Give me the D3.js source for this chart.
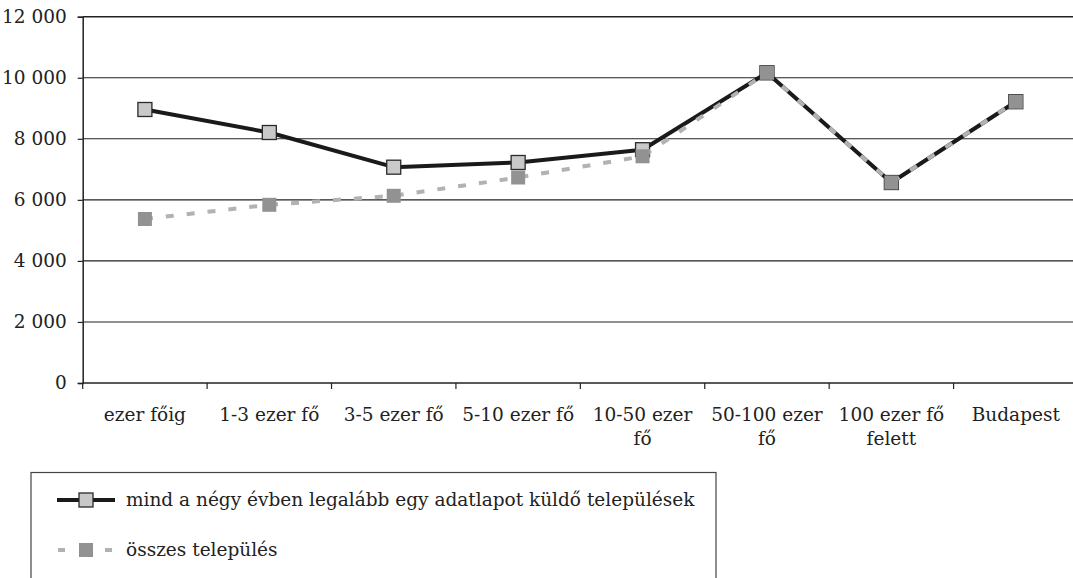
<!DOCTYPE html>
<html>
<head>
<meta charset="utf-8">
<script src="https://cdn.jsdelivr.net/npm/d3@7"></script>
<style>
  html, body { margin: 0; padding: 0; background: #fff; }
  svg { display: block; }
</style>
</head>
<body>
<svg id="chart" width="1073" height="578"></svg>
<script>
// ---- data ----
const categories = ["ezer főig", "1-3 ezer fő", "3-5 ezer fő", "5-10 ezer fő",
                    "10-50 ezer fő", "50-100 ezer fő", "100 ezer fő felett", "Budapest"];
const categoryLines = [["ezer főig"], ["1-3 ezer fő"], ["3-5 ezer fő"], ["5-10 ezer fő"],
                       ["10-50 ezer", "fő"], ["50-100 ezer", "fő"], ["100 ezer fő", "felett"], ["Budapest"]];
const seriesAllFour = [8960, 8206, 7070, 7224, 7643, 10162, 6568, 9215];
const seriesAll     = [5373, 5838, 6133, 6732, 7427, 10162, 6568, 9215];
const seriesNames = ["mind a négy évben legalább egy adatlapot küldő települések", "összes település"];
const yTicks = [0, 2000, 4000, 6000, 8000, 10000, 12000];
const yTickLabels = ["0", "2 000", "4 000", "6 000", "8 000", "10 000", "12 000"];

// ---- layout ----
const svg = d3.select("#chart");
const mLeft = 82.7, mRight = 1078, mTop = 16.7, mBottom = 383;
const FONT = "'DejaVu Serif', 'Liberation Serif', serif";
const FS = 18.5;

const x = d3.scaleBand().domain(categories).range([mLeft, mRight]).paddingInner(0).paddingOuter(0);
const y = d3.scaleLinear().domain([0, 12000]).range([mBottom, mTop]);

// gridlines
svg.append("g").selectAll("line").data(yTicks.filter(d => d > 0)).join("line")
  .attr("x1", mLeft).attr("x2", 1073)
  .attr("y1", d => y(d)).attr("y2", d => y(d))
  .attr("stroke", "#222").attr("stroke-width", d => d === 12000 ? 1.6 : 1.1);

// y axis
const yAxis = d3.axisLeft(y).tickValues(yTicks).tickSize(5)
  .tickFormat((d, i) => yTickLabels[i]);
const gy = svg.append("g").attr("transform", `translate(${mLeft},0)`).call(yAxis)
  .attr("font-family", FONT).attr("font-size", FS);
gy.select(".domain").attr("stroke", "#222").attr("stroke-width", 1.5);
gy.selectAll(".tick line").attr("stroke", "#222").attr("stroke-width", 1.2);
gy.selectAll(".tick text").attr("x", -16).attr("fill", "#222");

// x axis with ticks at category boundaries
const gx = svg.append("g").attr("transform", `translate(0,${mBottom})`)
  .attr("font-family", FONT).attr("font-size", FS);
gx.append("line").attr("x1", mLeft).attr("x2", 1073).attr("stroke", "#222").attr("stroke-width", 1.5);
gx.selectAll("line.tk").data(categories).join("line").attr("class", "tk")
  .attr("x1", d => x(d)).attr("x2", d => x(d)).attr("y1", 0).attr("y2", 6)
  .attr("stroke", "#222").attr("stroke-width", 1.2);
const lbl = gx.selectAll("text.cl").data(categories).join("text").attr("class", "cl")
  .attr("text-anchor", "middle").attr("fill", "#222")
  .attr("transform", d => `translate(${x(d) + x.bandwidth() / 2},38)`);
lbl.each(function(d, i) {
  d3.select(this).selectAll("tspan").data(categoryLines[i]).join("tspan")
    .attr("x", 0).attr("dy", (t, j) => j === 0 ? 0 : 24).text(t => t);
});

const cx = d => x(d) + x.bandwidth() / 2;
const ms = 14;

// series 1: solid black line, light gray squares
const line1 = d3.line().x((d, i) => cx(categories[i])).y(d => y(d));
svg.append("path").datum(seriesAllFour).attr("d", line1)
  .attr("fill", "none").attr("stroke", "#1a1a1a").attr("stroke-width", 4).attr("stroke-linejoin", "round");
svg.append("g").selectAll("rect").data(seriesAllFour).join("rect")
  .attr("x", (d, i) => cx(categories[i]) - ms / 2).attr("y", d => y(d) - ms / 2)
  .attr("width", ms).attr("height", ms)
  .attr("fill", "#c9c9c9").attr("stroke", "#2a2a2a").attr("stroke-width", 1.3);

// series 2: dashed gray line, darker gray squares
svg.append("path").datum(seriesAll).attr("d", line1)
  .attr("fill", "none").attr("stroke", "#b2b2b2").attr("stroke-width", 4)
  .attr("stroke-dasharray", "8,13");
svg.append("g").selectAll("rect").data(seriesAll).join("rect")
  .attr("x", (d, i) => cx(categories[i]) - ms / 2).attr("y", d => y(d) - ms / 2)
  .attr("width", ms).attr("height", ms)
  .attr("fill", "#929292");

// legend
const lg = svg.append("g").attr("font-family", FONT).attr("font-size", FS);
lg.append("rect").attr("x", 31).attr("y", 472.5).attr("width", 685).attr("height", 130)
  .attr("fill", "none").attr("stroke", "#444").attr("stroke-width", 1.2);
// entry 1
lg.append("line").attr("x1", 57).attr("x2", 115).attr("y1", 500).attr("y2", 500)
  .attr("stroke", "#1a1a1a").attr("stroke-width", 4);
lg.append("rect").attr("x", 79).attr("y", 493).attr("width", ms).attr("height", ms)
  .attr("fill", "#c9c9c9").attr("stroke", "#2a2a2a").attr("stroke-width", 1.3);
lg.append("text").attr("x", 126).attr("y", 500).attr("dy", "0.33em").attr("fill", "#222").text(seriesNames[0]);
// entry 2
lg.append("line").attr("x1", 58).attr("x2", 115).attr("y1", 550).attr("y2", 550)
  .attr("stroke", "#b2b2b2").attr("stroke-width", 4).attr("stroke-dasharray", "7,40,7");
lg.append("rect").attr("x", 79).attr("y", 543).attr("width", ms).attr("height", ms)
  .attr("fill", "#929292");
lg.append("text").attr("x", 126).attr("y", 550).attr("dy", "0.33em").attr("fill", "#222").text(seriesNames[1]);
</script>
</body>
</html>
